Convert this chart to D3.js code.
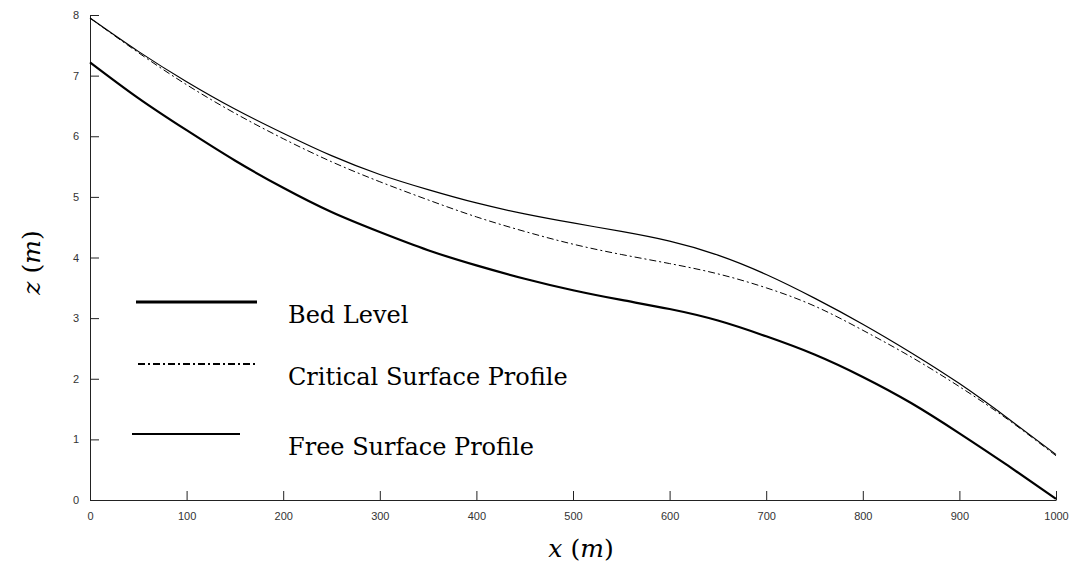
<!DOCTYPE html>
<html>
<head>
<meta charset="utf-8">
<script src="https://cdn.jsdelivr.net/npm/d3@7"></script>
<style>
  body { margin: 0; background: #fff; }
  svg { display: block; }
</style>
</head>
<body>
<div id="chart"></div>
<script>
const width = 1071, height = 571;
const margin = { top: 15, right: 15, bottom: 71, left: 90 };

// distance along channel (m)
const xs = [0, 50, 100, 150, 200, 250, 300, 350, 400, 450, 500, 550, 600, 650, 700, 750, 800, 850, 900, 950, 1000];
// bed level z (m)
const bedLevel = [7.22, 6.63, 6.1, 5.6, 5.15, 4.75, 4.42, 4.12, 3.87, 3.65, 3.46, 3.3, 3.15, 2.96, 2.7, 2.4, 2.03, 1.6, 1.1, 0.57, 0.02];
// critical surface profile
const criticalSurface = [7.95, 7.38, 6.85, 6.38, 5.96, 5.58, 5.25, 4.95, 4.67, 4.43, 4.22, 4.05, 3.9, 3.73, 3.5, 3.2, 2.8, 2.36, 1.87, 1.33, 0.73];
// free surface profile
const freeSurface = [7.95, 7.4, 6.9, 6.45, 6.05, 5.68, 5.37, 5.12, 4.9, 4.72, 4.57, 4.43, 4.27, 4.04, 3.72, 3.33, 2.9, 2.43, 1.92, 1.35, 0.75];

const xTicks = [0, 100, 200, 300, 400, 500, 600, 700, 800, 900, 1000];
const yTicks = [0, 1, 2, 3, 4, 5, 6, 7, 8];

const series = [
  { name: 'Bed Level', values: bedLevel, width: 2.2, dash: null, legendX: [136, 257], legendY: 302 },
  { name: 'Critical Surface Profile', values: criticalSurface, width: 1, dash: '7,3,2,3', legendX: [138, 257], legendY: 364 },
  { name: 'Free Surface Profile', values: freeSurface, width: 1.2, dash: null, legendX: [132, 240], legendY: 434 }
];

const svg = d3.select('#chart').append('svg')
  .attr('width', width)
  .attr('height', height);

const x = d3.scaleLinear().domain([0, 1000]).range([margin.left, width - margin.right]);
const y = d3.scaleLinear().domain([0, 8]).range([height - margin.bottom, margin.top]);

// axes, MATLAB style: ticks point inward
const xAxis = svg.append('g')
  .attr('transform', `translate(0,${y(0)})`)
  .call(d3.axisBottom(x).tickValues(xTicks).tickFormat(d3.format('d'))
    .tickSizeInner(-9).tickSizeOuter(0).tickPadding(12));
const yAxis = svg.append('g')
  .attr('transform', `translate(${x(0)},0)`)
  .call(d3.axisLeft(y).tickValues(yTicks).tickFormat(d3.format('d'))
    .tickSizeInner(-9).tickSizeOuter(0).tickPadding(11));

[xAxis, yAxis].forEach(a => {
  a.select('.domain').attr('stroke', '#222').attr('stroke-width', 1);
  a.selectAll('.tick line').attr('stroke', '#222');
  a.selectAll('.tick text')
    .attr('fill', '#333')
    .style('font', '11px "Liberation Sans", Arial, sans-serif');
});

// curves
const line = d3.line()
  .x((d, i) => x(xs[i]))
  .y(d => y(d))
  .curve(d3.curveNatural);

svg.append('g')
  .selectAll('path')
  .data(series)
  .join('path')
  .attr('d', d => line(d.values))
  .attr('fill', 'none')
  .attr('stroke', '#000')
  .attr('stroke-width', d => d.width)
  .attr('stroke-dasharray', d => d.dash);

// legend
const legend = svg.append('g');
legend.selectAll('line')
  .data(series)
  .join('line')
  .attr('x1', d => d.legendX[0])
  .attr('x2', d => d.legendX[1])
  .attr('y1', d => d.legendY)
  .attr('y2', d => d.legendY)
  .attr('stroke', '#000')
  .attr('stroke-width', d => d.width + 0.8)
  .attr('stroke-dasharray', d => d.dash);
legend.selectAll('text')
  .data(series)
  .join('text')
  .attr('x', 288)
  .attr('y', d => d.legendY + 21)
  .attr('fill', '#000')
  .style('font', '24px "DejaVu Serif", serif')
  .text(d => d.name);

// axis labels
const labelFont = '25px "DejaVu Serif", serif';
const xLabel = svg.append('text')
  .attr('x', (x(0) + x(1000)) / 2 + 8)
  .attr('y', 557)
  .attr('text-anchor', 'middle')
  .style('font', labelFont);
xLabel.append('tspan').attr('font-style', 'italic').text('x');
xLabel.append('tspan').text(' (');
xLabel.append('tspan').attr('font-style', 'italic').text('m');
xLabel.append('tspan').text(')');

const zLabel = svg.append('text')
  .attr('transform', `translate(40,${(y(0) + y(8)) / 2 + 5}) rotate(-90)`)
  .attr('text-anchor', 'middle')
  .style('font', labelFont);
zLabel.append('tspan').attr('font-style', 'italic').text('z');
zLabel.append('tspan').text(' (');
zLabel.append('tspan').attr('font-style', 'italic').text('m');
zLabel.append('tspan').text(')');
</script>
</body>
</html>
